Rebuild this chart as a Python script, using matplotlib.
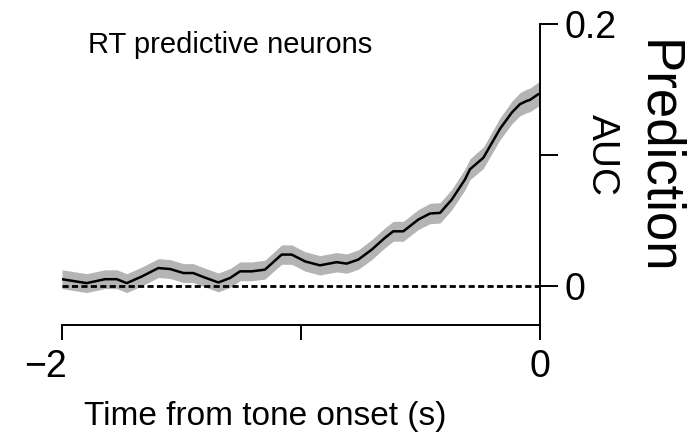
import numpy as np
import matplotlib
matplotlib.use('Agg')
import matplotlib.pyplot as plt
import matplotlib.transforms as mtransforms

# time from tone onset (s) and prediction AUC (above chance)
t = [-2.000, -1.897, -1.820, -1.771, -1.729, -1.667, -1.597, -1.548, -1.492, -1.451,
     -1.409, -1.346, -1.297, -1.255, -1.206, -1.151, -1.081, -1.039, -0.983, -0.921,
     -0.851, -0.809, -0.760, -0.704, -0.649, -0.614, -0.572, -0.509, -0.460, -0.418,
     -0.369, -0.314, -0.293, -0.237, -0.209, -0.167, -0.118, -0.084, -0.056, -0.042,
     -0.007, 0.000]
auc = [0.0050, 0.0020, 0.0050, 0.0050, 0.0020, 0.0070, 0.0135, 0.0128, 0.0097, 0.0097,
       0.0067, 0.0025, 0.0059, 0.0110, 0.0110, 0.0123, 0.0238, 0.0238, 0.0186, 0.0156,
       0.0180, 0.0169, 0.0200, 0.0276, 0.0366, 0.0416, 0.0416, 0.0506, 0.0552, 0.0557,
       0.0659, 0.0812, 0.0890, 0.0978, 0.1067, 0.1200, 0.1323, 0.1387, 0.1412, 0.1420,
       0.1464, 0.1464]
sem = [0.0072, 0.0072, 0.0072, 0.0072, 0.0072, 0.0072, 0.0072, 0.0072, 0.0072, 0.0072,
       0.0072, 0.0072, 0.0072, 0.0072, 0.0072, 0.0072, 0.0074, 0.0074, 0.0074, 0.0074,
       0.0074, 0.0074, 0.0074, 0.0076, 0.0076, 0.0076, 0.0076, 0.0076, 0.0078, 0.0078,
       0.0078, 0.0080, 0.0080, 0.0082, 0.0082, 0.0084, 0.0086, 0.0088, 0.0090, 0.0090,
       0.0092, 0.0092]

xticks = [-2, -1, 0]
xticklabels = ['\u22122', '', '0']
yticks = [0, 0.1, 0.2]
yticklabels = ['0', '', '0.2']

t = np.array(t)
auc = np.array(auc)
sem = np.array(sem)

plt.rcParams['font.family'] = ['Liberation Sans', 'DejaVu Sans']

fig = plt.figure(figsize=(6.93, 4.36), dpi=100)
ax = fig.add_axes([62/693, 1-325/436, 478/693, 301/436])

ax.fill_between(t, auc - sem, auc + sem, color='#b4b4b4', lw=0)
ax.plot(t, auc, color='k', lw=1.8)
ax.axhline(0, color='k', lw=2.0, dashes=(2.2, 1.2))

ax.set_xlim(-2, 0)
ax.set_ylim(-0.03, 0.2)

for s in ['left', 'top']:
    ax.spines[s].set_visible(False)
for s in ['right', 'bottom']:
    ax.spines[s].set_linewidth(1.4)

ax.yaxis.tick_right()
ax.set_yticks(yticks)
ax.set_yticklabels(yticklabels)
ax.set_xticks(xticks)
ax.set_xticklabels(xticklabels)
ax.tick_params(axis='x', direction='out', length=11, width=1.4, labelsize=27, pad=6)
ax.tick_params(axis='y', direction='out', length=13, width=1.4, labelsize=27, pad=5)

# the -2 label sits a bit left of its tick in the original
lab = ax.xaxis.get_major_ticks()[0].label1
lab.set_transform(lab.get_transform() + mtransforms.ScaledTranslation(-0.16, 0, fig.dpi_scale_trans))

fig.text(88/693, 1-53/436, 'RT predictive neurons', fontsize=21, ha='left', va='baseline')
fig.text(265/693, 1-425/436, 'Time from tone onset (s)', fontsize=24, ha='center', va='baseline')
fig.text(602/693, 1-155/436, 'AUC', fontsize=28, rotation=270, ha='center', va='center')
fig.text(657/693, 1-157/436, 'Prediction', fontsize=38, rotation=270, ha='center', va='center')

fig.savefig('out.png', dpi=100)
